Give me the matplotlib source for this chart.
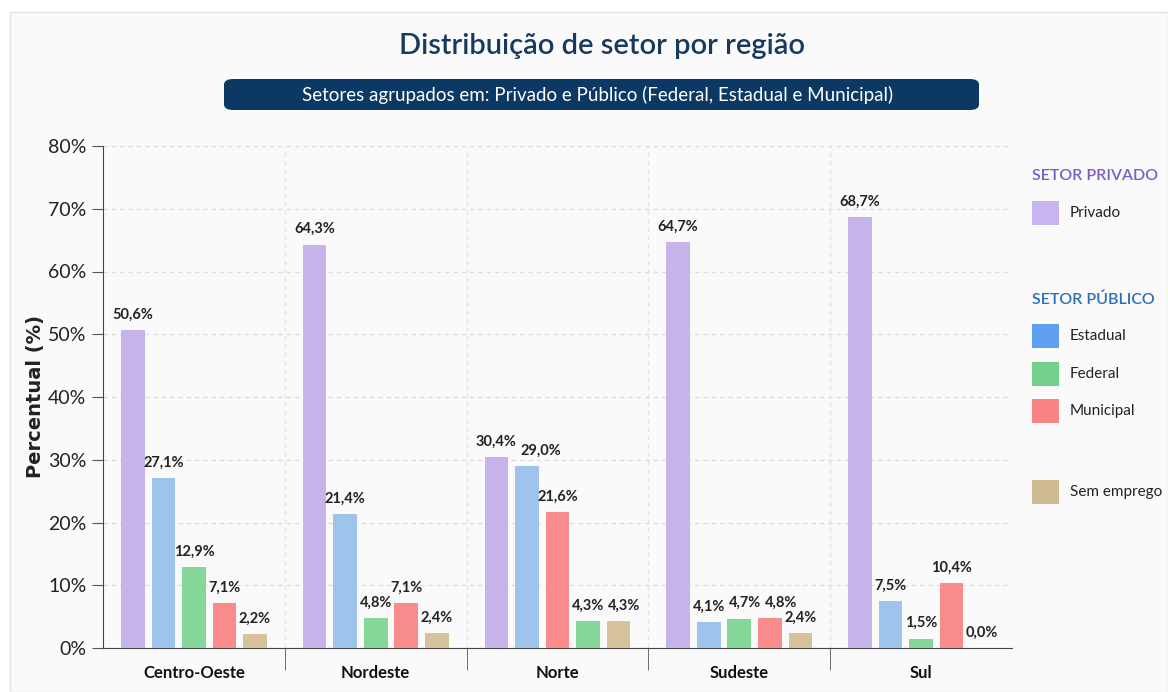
import matplotlib.pyplot as plt
from matplotlib.patches import Rectangle, FancyBboxPatch
from matplotlib.ticker import FuncFormatter

plt.rcParams["font.family"] = ["Lato", "DejaVu Sans"]

regioes = ["Centro-Oeste", "Nordeste", "Norte", "Sudeste", "Sul"]
setores = ["Privado", "Estadual", "Federal", "Municipal", "Sem emprego"]

privado = [50.6, 64.3, 30.4, 64.7, 68.7]
estadual = [27.1, 21.4, 29.0, 4.1, 7.5]
federal = [12.9, 4.8, 4.3, 4.7, 1.5]
municipal = [7.1, 7.1, 21.6, 4.8, 10.4]
sem_emprego = [2.2, 2.4, 4.3, 2.4, 0.0]

# ordem das barras dentro de cada regiao (Norte tem Municipal antes de Federal)
ordem = [
    ["Privado", "Estadual", "Federal", "Municipal", "Sem emprego"],
    ["Privado", "Estadual", "Federal", "Municipal", "Sem emprego"],
    ["Privado", "Estadual", "Municipal", "Federal", "Sem emprego"],
    ["Privado", "Estadual", "Federal", "Municipal", "Sem emprego"],
    ["Privado", "Estadual", "Federal", "Municipal", "Sem emprego"],
]

valores = {"Privado": privado, "Estadual": estadual, "Federal": federal,
           "Municipal": municipal, "Sem emprego": sem_emprego}
cores_barra = {"Privado": "#c5b3ea", "Estadual": "#9fc4ec", "Federal": "#86d69a",
               "Municipal": "#fa8b8b", "Sem emprego": "#d6c39b"}
cores_leg = {"Privado": "#c8b4ee", "Estadual": "#5e9ff0", "Federal": "#72d08a",
             "Municipal": "#f98484", "Sem emprego": "#cfbb91"}

W, H = 1168, 692
fig = plt.figure(figsize=(W / 100, H / 100), dpi=100, facecolor="white")

# painel de fundo
fig.patches.append(Rectangle((10 / W, 0), 1 - 10 / W, 1 - 12 / H, transform=fig.transFigure,
                             facecolor="#fafafa", edgecolor="#e2e2e2", lw=1, zorder=-10))

ax = fig.add_axes([103 / W, 44 / H, (1012 - 103) / W, (648 - 146) / H])
ax.set_facecolor("#fafafa")

slot = 0.168
largura = 0.13
rotulos = []
for i, reg in enumerate(regioes):
    grupo = []
    for k, s in enumerate(ordem[i]):
        x = i + 0.5 + (k - 2) * slot
        v = valores[s][i]
        ax.bar(x, v, width=largura, color=cores_barra[s], zorder=3)
        t = ax.annotate(f"{v:.1f}%".replace(".", ","), (x, v), xytext=(0, 6),
                        textcoords="offset points", ha="center", va="bottom",
                        fontsize=10.5, fontweight="bold", color="#222222")
        grupo.append(t)
    rotulos.append(grupo)

ax.set_xlim(0, 5)
ax.set_ylim(0, 80)
ax.set_yticks(range(0, 81, 10))
ax.yaxis.set_major_formatter(FuncFormatter(lambda v, p: f"{v:.0f}%"))
ax.tick_params(axis="y", labelsize=14, length=8, color="#555555", labelcolor="#222222", pad=4)
ax.set_xticks([i + 0.5 for i in range(5)])
ax.set_xticklabels(regioes, fontsize=12, fontweight="bold", color="#111111")
ax.tick_params(axis="x", length=0, pad=12)
ax.set_xticks([1, 2, 3, 4], minor=True)
ax.tick_params(axis="x", which="minor", length=16, color="#555555", direction="out")

ax.grid(axis="y", linestyle=(0, (3, 3)), color="#dddddd", lw=1, zorder=0)
for b in [1, 2, 3, 4, 5]:
    ax.axvline(b, linestyle=(0, (3, 3)), color="#e3e3e3", lw=1, zorder=0)

for lado in ["top", "right"]:
    ax.spines[lado].set_visible(False)
ax.spines["left"].set_color("#444444")
ax.spines["bottom"].set_color("#444444")

ax.set_ylabel("Percentual (%)", fontsize=14, fontweight="bold", color="#222222",
              family=["DejaVu Sans"])
ax.yaxis.set_label_coords(-0.064, 0.5)

# empurra rotulos que se sobrepoem para a direita
fig.canvas.draw()
r = fig.canvas.get_renderer()
for grupo in rotulos:
    for a, b in zip(grupo[:-1], grupo[1:]):
        ba = a.get_window_extent(r)
        bb = b.get_window_extent(r)
        if ba.overlaps(bb):
            dx = ba.x1 - bb.x0 + 4
            ox, oy = b.xyann
            b.xyann = (ox + dx * 72 / fig.dpi, oy)

# titulo e subtitulo
fig.text(602 / W, 1 - 46 / H, "Distribuição de setor por região", ha="center", va="center",
         fontsize=21, fontweight="semibold", color="#173a5e")
fig.patches.append(FancyBboxPatch((224 / W, 1 - 110 / H), (979 - 224) / W, 31 / H,
                                  boxstyle="round,pad=0,rounding_size=0.008",
                                  transform=fig.transFigure, facecolor="#0c3963",
                                  edgecolor="none"))
fig.text(598 / W, 1 - 95 / H, "Setores agrupados em: Privado e Público (Federal, Estadual e Municipal)",
         ha="center", va="center", fontsize=13.5, color="white")

# legenda manual com grupos
fig.text(1032 / W, 1 - 176 / H, "SETOR PRIVADO", ha="left", va="center",
         fontsize=11.5, fontweight="semibold", color="#7a5cc6")
fig.text(1032 / W, 1 - 300 / H, "SETOR PÚBLICO", ha="left", va="center",
         fontsize=11.5, fontweight="semibold", color="#2b6fb8")
itens = [("Privado", 213), ("Estadual", 336), ("Federal", 374), ("Municipal", 411), ("Sem emprego", 492)]
for s, yc in itens:
    fig.patches.append(Rectangle((1032 / W, 1 - (yc + 12) / H), 27 / W, 24 / H,
                                 transform=fig.transFigure, facecolor=cores_leg[s], edgecolor="none"))
    fig.text(1070 / W, 1 - yc / H, s, ha="left", va="center", fontsize=11, color="#222222")

fig.savefig("out.png", dpi=100, facecolor=fig.get_facecolor())
